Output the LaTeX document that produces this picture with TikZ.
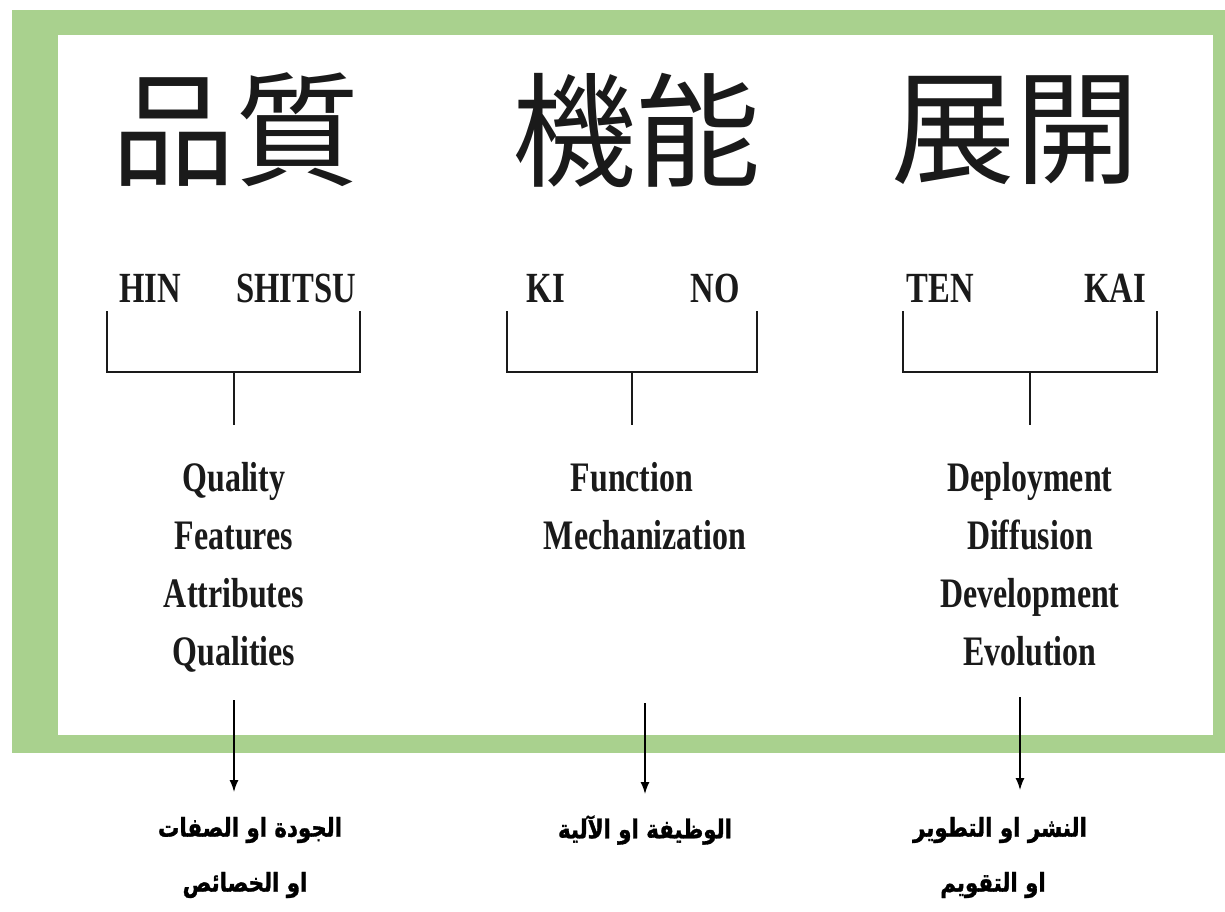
\documentclass[tikz,border=0pt]{standalone}
\usepackage{fontspec}
\usetikzlibrary{arrows.meta}
\TeXXeTstate=1
\setmainfont{Liberation Serif}[FakeStretch=0.76]
\newfontfamily\cjkfont{Noto Sans CJK JP}
\newfontfamily\arabicfont[Script=Arabic,FakeStretch=0.82,FakeBold=1.2]{DejaVu Sans}
\definecolor{framegreen}{HTML}{A9D18E}
\definecolor{ink}{HTML}{1A1A1A}
\tikzset{
  kanji/.style={inner sep=0pt, font=\cjkfont\fontsize{124}{124}\selectfont, text=ink},
  roman/.style={inner sep=0pt, anchor=base, font=\bfseries\fontsize{43}{43}\selectfont, text=ink},
  meaning/.style={inner sep=0pt, anchor=base, font=\bfseries\fontsize{42}{42}\selectfont, text=ink},
  artext/.style={inner sep=0pt, font=\arabicfont\bfseries\fontsize{26}{26}\selectfont, text=black},
  bracketline/.style={draw=ink, line width=2pt},
  stemline/.style={draw=ink, line width=1.5pt},
  downarrow/.style={draw=black, line width=1.4pt, -{Latex[length=12pt,width=9pt]}}
}
\begin{document}
\begin{tikzpicture}[x=1pt,y=-1pt]
\useasboundingbox (0,0) rectangle (1225,912);
\fill[white] (0,0) rectangle (1225,912);
% green frame
\fill[framegreen] (12,10) rectangle (1225,753);
\fill[white] (58,35) rectangle (1213,735);

% kanji
\node[kanji] (k1) at (235,130) {品質};
\node[kanji] (k2) at (636,130) {機能};
\node[kanji] (k3) at (1015,130) {展開};

% romanisation
\node[roman] (hin) at (150,302) {HIN};
\node[roman] (shitsu) at (296,302) {SHITSU};
\node[roman] (ki) at (546,302) {KI};
\node[roman] (no) at (715,302) {NO};
\node[roman] (ten) at (940,302) {TEN};
\node[roman] (kai) at (1115,302) {KAI};

% bracket coordinates
\coordinate (b1l) at (107,311); \coordinate (b1r) at (360,311);
\coordinate (b1m) at (234,372); \coordinate (b1s) at (234,425);
\coordinate (b2l) at (507,311); \coordinate (b2r) at (757,311);
\coordinate (b2m) at (632,372); \coordinate (b2s) at (632,425);
\coordinate (b3l) at (903,311); \coordinate (b3r) at (1157,311);
\coordinate (b3m) at (1030,372); \coordinate (b3s) at (1030,425);

\draw[bracketline] (b1l) |- (b1m) -| (b1r);
\draw[stemline] (b1m) -- (b1s);
\draw[bracketline] (b2l) |- (b2m) -| (b2r);
\draw[stemline] (b2m) -- (b2s);
\draw[bracketline] (b3l) |- (b3m) -| (b3r);
\draw[stemline] (b3m) -- (b3s);

% meanings
\node[meaning] (q1) at (234,491) {Quality};
\node[meaning] (q2) at (234,549) {Features};
\node[meaning] (q3) at (234,607) {Attributes};
\node[meaning] (q4) at (234,665) {Qualities};
\node[meaning] (f1) at (632,491) {Function};
\node[meaning] (f2) at (645,549) {Mechanization};
\node[meaning] (d1) at (1030,491) {Deployment};
\node[meaning] (d2) at (1030,549) {Diffusion};
\node[meaning] (d3) at (1030,607) {Development};
\node[meaning] (d4) at (1030,665) {Evolution};

% arrows
\coordinate (a1s) at (234,700); \coordinate (a1e) at (234,792);
\coordinate (a2s) at (645,703); \coordinate (a2e) at (645,794);
\coordinate (a3s) at (1020,697); \coordinate (a3e) at (1020,790);
\draw[downarrow] (a1s) -- (a1e);
\draw[downarrow] (a2s) -- (a2e);
\draw[downarrow] (a3s) -- (a3e);

% Arabic labels
\node[artext] (ar1) at (250,830) {\beginR الجودة او الصفات\endR};
\node[artext] (ar2) at (245,885) {\beginR او الخصائص\endR};
\node[artext] (ar3) at (645,830) {\beginR الوظيفة او الآلية\endR};
\node[artext] (ar4) at (1000,830) {\beginR النشر او التطوير\endR};
\node[artext] (ar5) at (993,885) {\beginR او التقويم\endR};
\end{tikzpicture}
\end{document}
